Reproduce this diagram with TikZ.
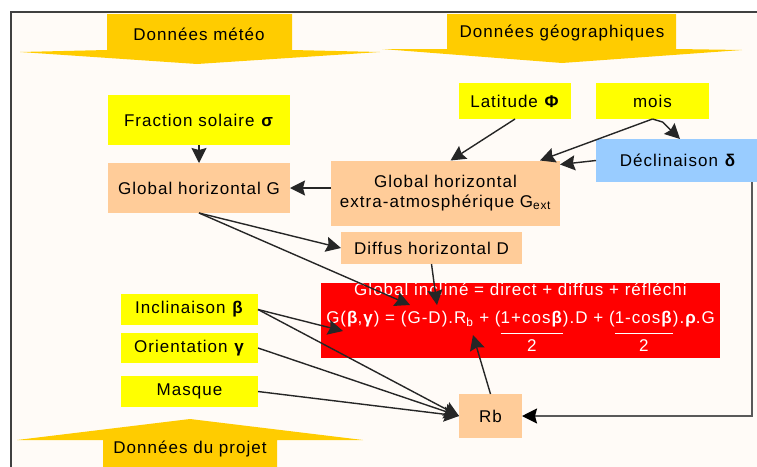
\documentclass[tikz,border=0pt]{standalone}
\usepackage{fontspec}
\setmainfont{Liberation Sans}[LetterSpace=6]
\usetikzlibrary{arrows.meta,calc}

\definecolor{paper}{HTML}{FFFBF7}
\definecolor{banner}{HTML}{FFCC00}
\definecolor{saisie}{HTML}{FFFF00}
\definecolor{calcul}{HTML}{FFCC99}
\definecolor{astro}{HTML}{99CCFF}
\definecolor{resultat}{HTML}{FF0000}

% fraction a deux etages, le numerateur reste sur la ligne
\newcommand\surdeux[1]{{\setlength\arrayrulewidth{1.2pt}%
    \begin{tabular}[t]{@{}c@{}}#1\\[3pt]\hline\rule{0pt}{18pt}2\end{tabular}}}

\begin{document}
\begin{tikzpicture}[
        x=1pt, y=-1pt,
        font=\fontsize{17}{20}\selectfont,
        link/.style={draw=black!85, line width=1.4pt, -{Stealth[length=15pt,width=15pt,inset=2pt]}},
        feed/.style={draw=black!65, line width=2pt, -{Stealth[length=15pt,width=15pt,inset=2pt,color=black]}}
    ]
    %\usetikzlibrary{arrows.meta,calc}

    \tikzstyle{box} = [
        inner sep = 0pt,
        outer sep = 0pt,
        align = center
    ]
    \tikzstyle{entree} = [box, fill = saisie]
    \tikzstyle{etape} = [box, fill = calcul]

    \clip (0,0) rectangle (757,466);
    \draw [line width=1.5pt, draw=black!75, fill=paper] (11,12) rectangle (800,500);

    % bandeaux
    \fill [banner] (107,14) -- (292,14) -- (292,50) -- (380,52) -- (197,64)
        -- (20,52) -- (107,50) -- cycle;
    \fill [banner] (447,14) -- (676,14) -- (676,49) -- (742,50) -- (562,63)
        -- (382,49) -- (447,49) -- cycle;
    \fill [banner] (190,419) -- (363,440) -- (277,440) -- (277,470) -- (103,470)
        -- (103,440) -- (17,440) -- cycle;
    \node [box] (meteo) at (199,34) {Données météo};
    \node [box] (geo) at (562,33) {Données géographiques};
    \node [box] (projet) at (190,449) {Données du projet};

    % blocs
    \node [entree, minimum width=182, minimum height=50] (fraction) at (199,120) {Fraction solaire \textbf{σ}};
    \node [etape, minimum width=182, minimum height=50] (gh) at (199,188) {Global horizontal G};
    \node [etape, minimum width=229, minimum height=65] (gext) at (445.5,193)
        {Global horizontal\\extra-atmosphérique G\textsubscript{ext}};
    \node [entree, minimum width=112, minimum height=36] (latitude) at (515,101) {Latitude \textbf{Φ}};
    \node [entree, minimum width=113, minimum height=36] (mois) at (652.5,101) {mois};
    \node [box, fill=astro, minimum width=164, minimum height=43] (decl) at (678,160.5) {Déclinaison \textbf{δ}};
    \node [etape, minimum width=181, minimum height=32] (diff) at (431.5,248) {Diffus horizontal D};
    \node [box, fill=resultat, text=white, minimum width=399, minimum height=75] (global) at (520.5,320.5)
        {Global incliné = direct + diffus + réfléchi\\[8pt]
         G(\textbf{β},\textbf{γ}) = (G-D).R\textsubscript{b} + (\surdeux{1+cos\textbf{β}}).D
         + (\surdeux{1-cos\textbf{β}}).\textbf{ρ}.G};
    \node [entree, minimum width=137, minimum height=31] (incl) at (189.5,309.5) {Inclinaison \textbf{β}};
    \node [entree, minimum width=137, minimum height=30] (orient) at (189.5,348) {Orientation \textbf{γ}};
    \node [entree, minimum width=137, minimum height=31] (masque) at (189.5,391.5) {Masque};
    \node [etape, minimum width=63, minimum height=44] (rb) at (490.5,416) {Rb};

    % points d'arrivee dans la formule
    \coordinate (surG) at (410,305);
    \coordinate (surD) at (437,305);
    \coordinate (surB) at (343,331);
    \coordinate (surR) at (473,335);

    % liaisons
    \draw [link] (fraction) -- (gh);
    \draw [link] (gext.west |- gh.east) -- (gh.east);
    \draw [link] (latitude.south) -- ([xshift=5pt]gext.north);
    \draw [link] (mois.south) -- ([xshift=-20pt]gext.north east);
    \draw [link] (mois.south) -- ++(10,3) -- ([xshift=2pt]decl.north);
    \draw [link] (decl.west) -- ([yshift=-4pt]gext.north east);
    \draw [feed] ([xshift=-8pt]decl.south east) |- (rb.east);
    \draw [link] (gh.south) -- (diff.west);
    \draw [link] (gh.south) -- (surG);
    \draw [link] (diff.south) -- (surD);
    \draw [link] (incl.east) -- (surB);
    \draw [link] (incl.east) -- (rb.west);
    \draw [link] (orient.east) -- (rb.west);
    \draw [link] (masque.east) -- (rb.west);
    \draw [link] (rb.north) -- (surR);
\end{tikzpicture}
\end{document}
